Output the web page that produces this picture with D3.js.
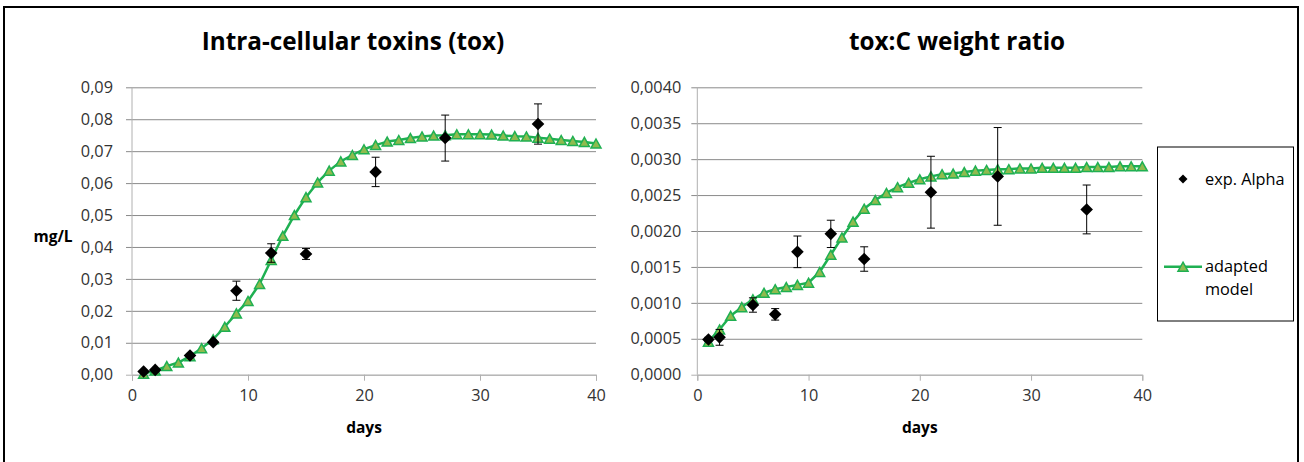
<!DOCTYPE html>
<html>
<head>
<meta charset="utf-8">
<script src="https://cdn.jsdelivr.net/npm/d3@7"></script>
<style>
  html, body { margin: 0; padding: 0; background: #fff; }
  svg { display: block; }
  text { font-family: "Open Sans", "DejaVu Sans", sans-serif; }
</style>
</head>
<body>
<svg id="chart" width="1304" height="462"></svg>
<script>
// ---------- data ----------
const modelDays = [1,2,3,4,5,6,7,8,9,10,11,12,13,14,15,16,17,18,19,20,
                   21,22,23,24,25,26,27,28,29,30,31,32,33,34,35,36,37,38,39,40];
const toxModel = [0.0003,0.0013,0.0027,0.0038,0.0058,0.0083,0.0111,0.0150,0.0192,0.0231,
                  0.0284,0.0359,0.0435,0.0500,0.0556,0.0602,0.0639,0.0668,0.0688,0.0706,
                  0.0719,0.0730,0.0735,0.0741,0.0746,0.0749,0.0750,0.0753,0.0753,0.0753,
                  0.0752,0.0749,0.0747,0.0746,0.0742,0.0739,0.0735,0.0732,0.0729,0.0724];
const ratioModel = [0.00046,0.00063,0.00082,0.00094,0.00105,0.00114,0.00119,0.00122,0.00125,0.00128,
                    0.00143,0.00167,0.00191,0.00213,0.00231,0.00243,0.00253,0.00261,0.00267,0.00272,
                    0.00276,0.00279,0.00280,0.00282,0.00284,0.00285,0.00286,0.00286,0.00287,0.00287,
                    0.00288,0.00288,0.00288,0.00288,0.00289,0.00289,0.00289,0.00290,0.00290,0.00290];
const expDays  = [1,2,5,7,9,12,15,21,27,35];
const toxExp   = [0.0010,0.0015,0.0060,0.0102,0.0263,0.0381,0.0378,0.0635,0.0741,0.0785];
const toxErr   = [0.0003,0.0003,0.0004,0.0004,0.0030,0.0029,0.0017,0.0046,0.0072,0.0063];
const ratioExp = [0.00049,0.00052,0.00097,0.00084,0.00171,0.00196,0.00161,0.00254,0.00276,0.00230];
const ratioErr = [0.00003,0.00011,0.00010,0.00008,0.00022,0.00019,0.00017,0.00050,0.00068,0.00034];
const xTicks = [0,10,20,30,40];
const toxTicks = [0,0.01,0.02,0.03,0.04,0.05,0.06,0.07,0.08,0.09];
const ratioTicks = [0,0.0005,0.0010,0.0015,0.0020,0.0025,0.0030,0.0035,0.0040];
const titles = ["Intra-cellular toxins (tox)", "tox:C weight ratio"];
const yLabel = "mg/L";
const xLabel = "days";
const legendLabels = ["exp. Alpha", ["adapted", "model"]];

// ---------- styles ----------
const GREEN = "#1fb052";
const TRI_FILL = "#8fbb4e";
const GRID = "#8a8a8a";
const AXIS = "#b0b0b0";
const TICK_TXT = "#333333";

const locale = d3.formatLocale({decimal: ",", thousands: ".", grouping: [3], currency: ["", ""]});

const svg = d3.select("#chart");

// outer frame
svg.append("rect").attr("x", 4).attr("y", 7).attr("width", 1294).attr("height", 470)
  .attr("fill", "none").attr("stroke", "#000").attr("stroke-width", 2);

function triPath(w, h) {
  return `M0,${-h/2}L${w/2},${h/2}L${-w/2},${h/2}Z`;
}
function diaPath(r) {
  return `M0,${-r}L${r},0L0,${r}L${-r},0Z`;
}

function panel(opt) {
  const x = d3.scaleLinear().domain([0, 40]).range([opt.x0, opt.x1]);
  const y = d3.scaleLinear().domain([0, opt.yMax]).range([374.7, 87.3]);
  const g = svg.append("g");
  const fmt = locale.format(opt.fmt);

  // gridlines + y ticks
  g.append("g").attr("transform", `translate(${opt.x0},0)`)
    .call(d3.axisLeft(y).tickValues(opt.yTicks).tickSize(-(opt.x1 - opt.x0)).tickPadding(opt.pad).tickFormat(fmt))
    .call(s => s.select(".domain").remove())
    .call(s => s.selectAll(".tick line").attr("stroke", GRID).attr("stroke-width", 1).attr("x1", -6))
    .call(s => s.selectAll(".tick").filter(d => d === 0).select("line").attr("stroke", AXIS))
    .call(s => s.selectAll(".tick text").attr("fill", TICK_TXT).attr("font-size", 16.3)
      .attr("font-family", "'Open Sans', sans-serif"));

  // y axis line
  g.append("line").attr("x1", opt.x0).attr("x2", opt.x0).attr("y1", 87.3).attr("y2", 374.7)
    .attr("stroke", AXIS).attr("stroke-width", 1);

  // x axis
  g.append("g").attr("transform", `translate(0,374.7)`)
    .call(d3.axisBottom(x).tickValues(xTicks).tickSize(6).tickPadding(9).tickFormat(d3.format("d")))
    .call(s => s.select(".domain").attr("stroke", AXIS))
    .call(s => s.selectAll(".tick line").attr("stroke", AXIS))
    .call(s => s.selectAll(".tick text").attr("fill", TICK_TXT).attr("font-size", 16.3)
      .attr("font-family", "'Open Sans', sans-serif"));

  // title
  g.append("text").attr("x", opt.titleX).attr("y", 50).attr("text-anchor", "middle")
    .attr("font-size", 24.3).attr("font-weight", "bold").attr("fill", "#000").text(opt.title);

  // x label
  g.append("text").attr("x", x(20)).attr("y", 433).attr("text-anchor", "middle")
    .attr("font-size", 15.5).attr("font-weight", "bold").attr("fill", "#000").text(xLabel);

  // model line
  const line = d3.line().x((d, i) => x(modelDays[i])).y(d => y(d));
  g.append("path").datum(opt.model).attr("d", line).attr("fill", "none")
    .attr("stroke", GREEN).attr("stroke-width", 2.5).attr("stroke-linejoin", "round");
  g.append("g").selectAll("path").data(opt.model).join("path")
    .attr("transform", (d, i) => `translate(${x(modelDays[i])},${y(d)})`)
    .attr("d", triPath(10, 9))
    .attr("fill", TRI_FILL).attr("stroke", GREEN).attr("stroke-width", 1.5).attr("stroke-linejoin", "miter");

  // error bars
  const eb = g.append("g").attr("stroke", "#000").attr("stroke-width", 1);
  opt.exp.forEach((v, i) => {
    const cx = x(expDays[i]);
    const t = y(v + opt.err[i]), b = y(v - opt.err[i]);
    eb.append("line").attr("x1", cx).attr("x2", cx).attr("y1", t).attr("y2", b);
    eb.append("line").attr("x1", cx - 4).attr("x2", cx + 4).attr("y1", t).attr("y2", t);
    eb.append("line").attr("x1", cx - 4).attr("x2", cx + 4).attr("y1", b).attr("y2", b);
  });

  // exp diamonds
  g.append("g").selectAll("path").data(opt.exp).join("path")
    .attr("transform", (d, i) => `translate(${x(expDays[i])},${y(d)})`)
    .attr("d", diaPath(6.3)).attr("fill", "#000");
}

panel({x0: 132, x1: 596, yMax: 0.09, yTicks: toxTicks, fmt: ".2f", pad: 19,
       model: toxModel, exp: toxExp, err: toxErr, title: titles[0], titleX: 353});
panel({x0: 697.3, x1: 1142.3, yMax: 0.004, yTicks: ratioTicks, fmt: ".4f", pad: 16,
       model: ratioModel, exp: ratioExp, err: ratioErr, title: titles[1], titleX: 957});

// y label (left)
svg.append("text").attr("x", 53).attr("y", 242).attr("text-anchor", "middle")
  .attr("font-size", 15.5).attr("font-weight", "bold").attr("fill", "#000").text(yLabel);

// legend
const lg = svg.append("g");
lg.append("rect").attr("x", 1157.5).attr("y", 147).attr("width", 136).attr("height", 174)
  .attr("fill", "#fff").attr("stroke", "#000").attr("stroke-width", 1);
lg.append("path").attr("transform", "translate(1183,179)").attr("d", diaPath(4.5)).attr("fill", "#000");
lg.append("text").attr("x", 1205).attr("y", 185).attr("font-size", 16.3).attr("fill", "#000").text(legendLabels[0]);
lg.append("line").attr("x1", 1164).attr("x2", 1202).attr("y1", 266.7).attr("y2", 266.7)
  .attr("stroke", GREEN).attr("stroke-width", 2.5);
lg.append("path").attr("transform", "translate(1183,266.7)").attr("d", triPath(10, 9))
  .attr("fill", TRI_FILL).attr("stroke", GREEN).attr("stroke-width", 1.5);
lg.append("text").attr("x", 1205).attr("y", 272).attr("font-size", 16.3).attr("fill", "#000").text(legendLabels[1][0]);
lg.append("text").attr("x", 1205).attr("y", 295).attr("font-size", 16.3).attr("fill", "#000").text(legendLabels[1][1]);
</script>
</body>
</html>
